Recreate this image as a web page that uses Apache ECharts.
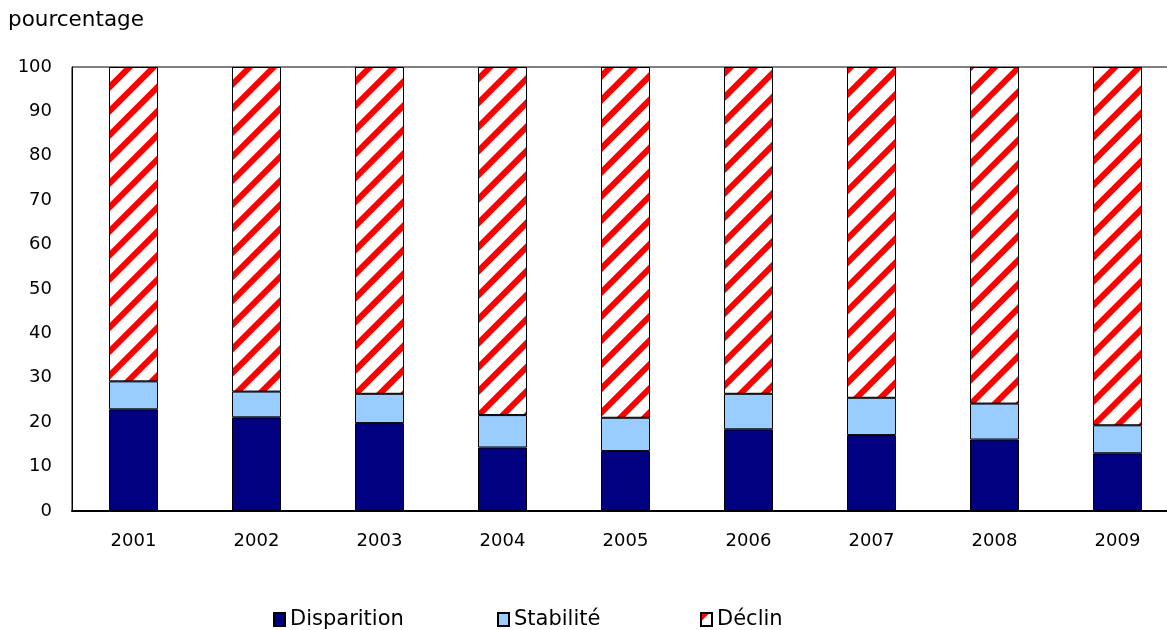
<!DOCTYPE html>
<html><head><meta charset="utf-8">
<script src="https://cdn.jsdelivr.net/npm/echarts@6/dist/echarts.min.js"></script>
<style>html,body{margin:0;padding:0;background:#fff;overflow:hidden}#c{width:1179px;height:630px}</style>
</head><body><div id="c"></div>
<script>
const categories = ['2001','2002','2003','2004','2005','2006','2007','2008','2009'];
const disparition = [22.9,21.1,19.8,14.3,13.5,18.4,17.1,16.1,13.0];
const stabilite = [6.3,5.8,6.6,7.3,7.5,8.0,8.4,8.1,6.3];
const declin = [70.8,73.1,73.6,78.4,79.0,73.6,74.5,75.8,80.7];
const yTicks = [0,10,20,30,40,50,60,70,80,90,100];

const FONT = 'DejaVu Sans';
const chart = echarts.init(document.getElementById('c'));
const stripe = {
  symbol: 'rect', symbolSize: 1, dashArrayX: [1, 0], dashArrayY: [6, 11],
  rotation: -Math.PI / 4, color: '#ff0000', backgroundColor: '#ffffff'
};
const legendBase = {
  top: 609, padding: 0, itemWidth: 11, itemHeight: 13, itemGap: 3, icon: 'rect',
  textStyle: { fontFamily: FONT, fontSize: 21, color: '#000' }
};
chart.setOption({
  animation: false,
  title: { text: 'pourcentage', left: 8, top: 9, padding: 0,
    textStyle: { fontFamily: FONT, fontSize: 21.5, fontWeight: 'normal', color: '#000' } },
  grid: { left: 72, top: 67, right: 0, height: 444, show: true,
    borderColor: '#000', borderWidth: 1, backgroundColor: 'transparent' },
  legend: [
    Object.assign({}, legendBase, { left: 273, data: ['Disparition'] }),
    Object.assign({}, legendBase, { left: 497, data: ['Stabilité'] }),
    Object.assign({}, legendBase, { left: 700, data: ['Déclin'] })
  ],
  xAxis: {
    type: 'category', data: categories,
    axisLine: { lineStyle: { color: '#000', width: 2 } },
    axisTick: { show: false },
    axisLabel: { fontFamily: FONT, fontSize: 18, color: '#000', margin: 21 }
  },
  yAxis: {
    type: 'value', min: yTicks[0], max: yTicks[yTicks.length - 1], interval: 10,
    axisLine: { show: true, lineStyle: { color: '#000', width: 1 } },
    axisTick: { show: false },
    splitLine: { show: false },
    axisLabel: { fontFamily: FONT, fontSize: 18, color: '#000', margin: 20 }
  },
  series: [
    { name: 'Disparition', type: 'bar', stack: 's', data: disparition, barWidth: 49,
      itemStyle: { color: '#000080', borderColor: '#000', borderWidth: 1 } },
    { name: 'Stabilité', type: 'bar', stack: 's', data: stabilite, barWidth: 49,
      itemStyle: { color: '#99ccff', borderColor: '#000', borderWidth: 1 } },
    { name: 'Déclin', type: 'bar', stack: 's', data: declin, barWidth: 49,
      itemStyle: { color: '#ffffff', borderColor: '#000', borderWidth: 1, decal: stripe } }
  ]
});
</script></body></html>
